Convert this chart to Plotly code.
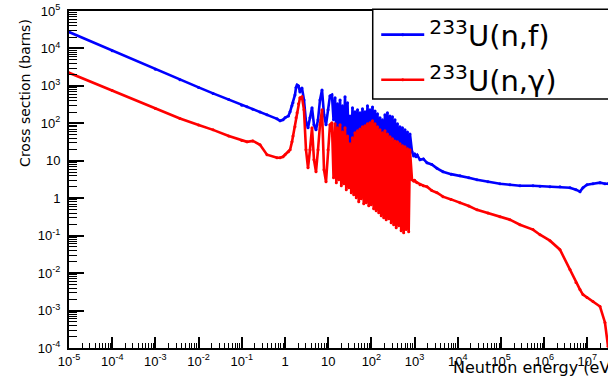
import plotly.graph_objects as go

# ---- U-233 neutron cross sections (energy in eV, cross sections in barns) ----
# Thermal and low resonance region
e_low = [1e-5, 1e-4, 1e-3, 3.7e-3, 1e-2, 0.0216, 0.05, 0.1, 0.132, 0.18, 0.264, 0.383,
         0.653, 0.77, 0.9, 1.0, 1.2, 1.31, 1.45, 1.53, 1.7, 1.8, 1.9, 2.05, 2.22, 2.47,
         2.75, 3.06, 3.41, 3.79, 4.22, 4.69, 5.22, 5.81, 6.46, 7.19, 8.0, 8.9, 9.9,
         11.0, 12.2, 13.3]
fis_low = [27500, 8700, 2790, 1450, 910, 630, 431, 306, 277, 239, 201, 169,
           132, 117, 124, 140, 158, 203, 293, 352, 575, 900, 1063, 1000, 692, 885,
           423, 110, 76, 140, 259, 91, 67, 124, 423, 782, 169, 91, 229,
           541, 575, 124]
cap_low = [2240, 750, 250, 135, 90, 67, 46, 35, 32, 34, 26.7, 14.5,
           12.0, 12.0, 12.8, 14.5, 17.5, 19.7, 32, 46, 81, 140, 191, 331, 479, 509,
           229, 19.7, 6.5, 19.7, 76, 10.6, 5.1, 19.7, 91, 229, 5.75, 2.75, 19.7,
           91, 103, 3.5]

# Dense resolved-resonance region (peaks and valleys)
e_res = [14.4, 15.4, 16.4, 17.5, 18.8, 20.1, 21.4, 22.9, 24.5, 26.2, 28.0, 29.9, 32.0,
         34.2, 36.5, 39.0, 41.7, 44.6, 47.7, 51.0, 54.5, 58.2, 62.2, 66.5, 71.1, 76.0,
         81.2, 86.8, 92.8, 99.2, 106, 113, 121, 129, 138, 148, 158, 169, 180, 193, 206,
         220, 235, 252, 269, 287, 307, 328, 351, 375, 401, 428, 458, 489, 523, 559, 598,
         639, 683, 730, 780]
fis_res = [479, 59, 331, 49, 423, 41, 293, 36, 509, 32, 352, 22.2, 158, 17.4, 259, 19.7,
           203, 25.1, 229, 26.7, 191, 32, 244, 36, 203, 41, 293, 44, 229, 49, 275, 46,
           215, 36, 179, 28.4, 140, 25.1, 124, 19.7, 169, 22.2, 191, 17.4, 158, 14.5,
           149, 13.6, 124, 12.0, 97, 10.6, 81, 9.4, 76, 8.8, 67, 7.8, 59, 7.4, 52]
cap_res = [97, 2.6, 76, 3.1, 91, 2.15, 59, 2.44, 76, 1.69, 46, 1.9, 28.4, 1.4, 41, 1.24,
           56, 1.03, 63, 0.81, 71, 0.97, 81, 0.71, 86, 0.76, 97, 0.63, 103, 0.67, 117,
           0.52, 97, 0.46, 81, 0.41, 67, 0.34, 56, 0.30, 63, 0.267, 52, 0.284, 44, 0.222,
           39, 0.196, 34, 0.163, 32, 0.185, 28.4, 0.136, 25.1, 0.120, 23.6, 0.145, 20.9,
           0.128, 19.7]

# Unresolved and fast region
e_fast = [871, 950, 1000, 1080, 1150, 1334, 1600, 1937, 2500, 3300, 4540, 7000, 11240,
          18000, 27800, 50000, 94800, 161000, 275000, 550000, 800000, 1.36e6, 2.32e6,
          3.95e6, 5.44e6, 6.74e6, 7.9e6, 9.8e6, 1.35e7, 1.96e7, 2.55e7, 3.0e7]
fis_fast = [17.4, 13.5, 15.5, 12.8, 14.2, 10.6, 11.2, 8.8, 8.0, 6.3, 5.1, 4.4, 3.98,
            3.5, 3.1, 2.75, 2.44, 2.29, 2.15, 2.15, 2.1, 2.03, 2.03,
            1.9, 1.69, 1.50, 1.9, 2.29, 2.44, 2.6, 2.44, 2.44]
cap_fast = [3.1, 2.9, 3.0, 2.7, 2.6, 2.29, 2.15, 2.03, 1.6, 1.4, 1.10, 0.93, 0.76,
            0.62, 0.49, 0.40, 0.32, 0.267, 0.196, 0.145, 0.106, 0.0735, 0.0423,
            0.0124, 0.00558, 0.00363, 0.00267, 0.00222, 0.00174, 0.00128, 0.00048, 0.00011]

# Axis ticks
x_tick_vals = [1e-5, 1e-4, 1e-3, 1e-2, 1e-1, 1, 10, 1e2, 1e3, 1e4, 1e5, 1e6, 1e7]
x_tick_text = ["10<sup>-5</sup>", "10<sup>-4</sup>", "10<sup>-3</sup>", "10<sup>-2</sup>",
               "10<sup>-1</sup>", "1", "10", "10<sup>2</sup>", "10<sup>3</sup>",
               "10<sup>4</sup>", "10<sup>5</sup>", "10<sup>6</sup>", "10<sup>7</sup>"]
y_tick_vals = [1e-4, 1e-3, 1e-2, 1e-1, 1, 10, 1e2, 1e3, 1e4, 1e5]
y_tick_text = ["10<sup>-4</sup>", "10<sup>-3</sup>", "10<sup>-2</sup>", "10<sup>-1</sup>",
               "1", "10", "10<sup>2</sup>", "10<sup>3</sup>", "10<sup>4</sup>", "10<sup>5</sup>"]

series_names = ["<sup>233</sup>U(n,f)", "<sup>233</sup>U(n,γ)"]
series_colors = ["#0000ff", "#ff0000"]

TICK_FONT = "Liberation Sans, Arial, Helvetica, sans-serif"
TEXT_FONT = "DejaVu Sans, Verdana, sans-serif"

energy = e_low + e_res + e_fast
fission = fis_low + fis_res + fis_fast
capture = cap_low + cap_res + cap_fast

X_RANGE = [-5, 7.477]
Y_RANGE = [-4, 5]

fig = go.Figure()
for ys, name, color, leg in [(fission, series_names[0], series_colors[0], "legend"),
                             (capture, series_names[1], series_colors[1], "legend2")]:
    fig.add_trace(go.Scatter(
        x=energy, y=ys, mode="lines+markers", name=name, legend=leg,
        line=dict(color=color, width=2.6),
        marker=dict(color=color, size=3),
    ))

# minor decade subdivisions (2..9 x 10^n)
minor_x = [m * 10.0 ** n for n in range(-5, 8) for m in range(2, 10)]
minor_y = [m * 10.0 ** n for n in range(-4, 5) for m in range(2, 10)]

fig.update_layout(
    xaxis=dict(type="log", range=X_RANGE, tickmode="array", tickvals=x_tick_vals,
               ticktext=x_tick_text, ticks="inside", ticklen=11, tickwidth=2,
               tickcolor="black", showgrid=False, zeroline=False,
               showline=True, linecolor="black", linewidth=2, mirror=True,
               tickfont=dict(family=TICK_FONT, size=13, color="black"),
               minor=dict(ticks="inside", ticklen=5, tickwidth=1, tickcolor="black",
                          tickmode="array", tickvals=minor_x, showgrid=False)),
    yaxis=dict(type="log", range=Y_RANGE, tickmode="array", tickvals=y_tick_vals,
               ticktext=y_tick_text, ticks="inside", ticklen=15, tickwidth=2,
               tickcolor="black", showgrid=False, zeroline=False,
               showline=True, linecolor="black", linewidth=2, ticklabelstandoff=4,
               tickfont=dict(family=TICK_FONT, size=13, color="black"),
               minor=dict(ticks="inside", ticklen=8, tickwidth=1, tickcolor="black",
                          tickmode="array", tickvals=minor_y, showgrid=False)),
)

legend_style = dict(
    bgcolor="rgba(0,0,0,0)", borderwidth=0, itemwidth=43,
    font=dict(family=TEXT_FONT, size=29, color="black"),
    xanchor="left", yanchor="top", x=0.57,
)

fig.update_layout(
    width=608, height=384,
    margin=dict(l=69, r=0, t=11, b=36, autoexpand=False),
    paper_bgcolor="white", plot_bgcolor="white",
    showlegend=True,
    legend=dict(**legend_style, y=1.005),
    legend2=dict(**legend_style, y=0.871),
    shapes=[dict(type="rect", xref="paper", yref="paper",
                 x0=0.5635, x1=1.1, y0=0.7389, y1=1.005,
                 line=dict(color="black", width=1.5), fillcolor="white", layer="above")],
    annotations=[
        dict(text="Cross section (barns)", xref="paper", yref="paper",
             x=0, xshift=-44, y=0.757, xanchor="center", yanchor="middle",
             textangle=-90, showarrow=False,
             font=dict(family=TEXT_FONT, size=14, color="black")),
        dict(text="Neutron energy (eV)", xref="paper", yref="paper",
             x=0.7087, y=-0.0593, xanchor="left", yanchor="middle", showarrow=False,
             font=dict(family=TEXT_FONT, size=16, color="black")),
    ],
)

fig.write_html("out.html")
